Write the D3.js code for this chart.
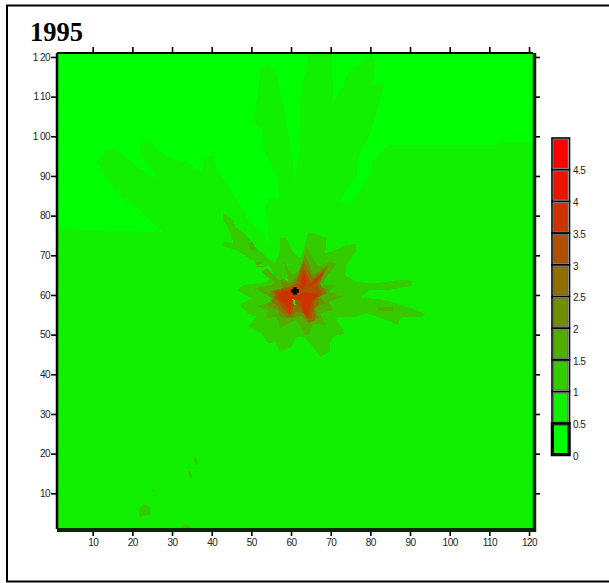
<!DOCTYPE html>
<html>
<head>
<meta charset="utf-8">
<script src="https://cdnjs.cloudflare.com/ajax/libs/d3/7.8.5/d3.min.js"></script>
<style>
  body { margin: 0; background: #fff; }
  svg { display: block; }
  .tick text { font-family: "Liberation Sans", Arial, sans-serif; font-size: 10px; fill: #222; letter-spacing: -0.5px; }
  .tick line { stroke: #000; stroke-width: 1.6px; }
</style>
</head>
<body>
<svg></svg>
<script>
const width = 609;
const height = 583;

const title = "1995";
const axisTicks = [10, 20, 30, 40, 50, 60, 70, 80, 90, 100, 110, 120];
const legendTicks = [0, 0.5, 1, 1.5, 2, 2.5, 3, 3.5, 4, 4.5];
const legendColors = ["#00ff00", "#10f000", "#33cc00", "#50ae00", "#708e00", "#8f6f00", "#ae5000", "#cc3300", "#eb1400", "#ff0000"];
const source = [61, 61];

// contour outlines, in grid units
const band05 = [[1,1],[1,77.1],[8.1,76.4],[26.2,75.9],[28,75.6],[25.5,77.6],[20.4,82.7],[18.1,83.9],[14.9,87.2],[11.1,93.3],[12.9,96.5],[15.4,97],[21.2,92.3],[26.2,89.5],[21.9,95.8],[21.9,98.6],[24.2,98.6],[28.7,94.8],[33.8,93.5],[37.6,91],[38.1,94.8],[40.6,95.3],[41.3,91.5],[43.4,89],[44.6,86.5],[48.1,81.4],[48.9,79.4],[53,75.6],[54.5,72.1],[54.2,76.4],[53.4,82.2],[54.7,84.7],[57,83.9],[56.5,90.2],[53,96.5],[52.7,101.6],[50.2,103.6],[51.7,110.9],[52.2,116.8],[54,118],[56,117.2],[57.2,111.7],[58.2,107.9],[60.5,93.3],[60.8,88.2],[61,89],[62.3,98.3],[62.3,109.2],[64,118.5],[64.3,121],[70.3,121],[70.6,108.4],[73.1,112.9],[74.9,117.2],[79.9,120],[81.2,118.7],[80.7,112.9],[83.7,113.4],[79.9,100.3],[76.9,94.5],[76.6,90.2],[73.6,85.9],[72.4,83.4],[75.4,83.4],[79.9,90.2],[80.4,93.5],[82.9,96.5],[85,97.8],[112,97.8],[112.7,98.6],[121,98.6],[121,1]];
const band1 = [[42.9,80.6],[45.5,78.9],[45.9,77.2],[48.4,75.5],[50.9,72.2],[54.3,69.2],[56,68],[57.2,71.3],[57.2,74.3],[58.9,74.3],[60.2,71.3],[62.3,69.2],[64.4,75.9],[66.9,75.1],[69,74.3],[68.6,70.5],[70.2,70.9],[74,72.6],[76.5,73],[76.5,71.3],[74,67.6],[73.6,65],[76.5,63.3],[80.7,62.9],[87.5,63.8],[90.4,63.6],[90.4,62.3],[84.9,61.3],[79.9,61.3],[77.4,59.4],[84.1,58.7],[89.2,57],[93.8,55.4],[93.3,54.5],[87.5,54.3],[87,52.4],[84.9,53.3],[79.1,55.4],[76.5,54.5],[71.1,54.5],[73.6,50.3],[70.7,49.5],[69.8,47.8],[69.8,45.7],[67.3,44.4],[65.2,47.4],[63,49.4],[61.4,49.5],[60.2,47],[57.2,45.7],[56,48.2],[54.3,47.8],[52.6,50.3],[49.2,52],[51.3,54.5],[49,55.4],[47.1,57.5],[50.1,59.1],[46.3,61.2],[48,62.5],[53.9,63.3],[55.5,65.4],[54.3,67.6],[52.6,66.7],[50.9,68.4],[48.8,69.6],[46.3,71.3],[42.1,72.6],[42.9,73.4],[45.5,73],[44.2,76.8],[42.9,78.9]];
const band15 = [[63.9,72.2],[65.6,69.2],[66.9,67.1],[69.4,68.4],[71.5,68],[69,64.6],[67.7,62.5],[71.1,62.5],[69.4,60.8],[73.2,59.6],[69.4,58.3],[70.7,56.2],[67.3,55.4],[68.6,52.4],[65.6,52.8],[64.4,49.9],[63.5,49.9],[61.4,53.7],[59.7,52.9],[57.2,51.6],[56.4,54.5],[53.4,54.1],[54.3,56.2],[51.3,57.1],[54.7,58.3],[56,60],[53,60.4],[50.9,61.7],[53.4,62.1],[56,62.9],[52.6,65.9],[53.9,66.7],[56.8,63.8],[59.3,64.2],[58.1,68.8],[59.3,66.3],[60.6,65],[62.3,66.7]];
const band2 = [[63.5,70.1],[64.8,67.1],[65.6,65],[68.1,66.7],[69.8,67.6],[67.7,64.2],[66.5,62.5],[69.4,61.3],[67.3,59.6],[68.6,57.9],[66,57],[66.9,54.1],[64.4,52.9],[62.3,54.9],[60.6,54.5],[58.9,54.1],[57.2,54.5],[56.8,56.2],[53.9,57.5],[56,58.7],[53.9,60],[56,61.3],[58,61.7],[57.2,63.8],[59.7,62.9],[61.4,64.6],[62.3,66.7]];
const band25 = [[54.8,61],[57.4,61.6],[60,62.4],[61.4,63.8],[63.2,68.6],[64.7,65.6],[65.4,64.2],[69,67],[67.2,62.7],[69,60.5],[66.8,59.4],[67,57.6],[65.9,56.5],[66,53.5],[64.6,53],[63,55.5],[61.2,55.8],[60,54],[58.5,54.8],[57.4,55.8],[56.5,57.4],[55,58.5],[56,60]];
const band3 = [[55.8,61],[60.2,62],[61.6,63.2],[63.1,67.3],[64.4,64.2],[65,63.4],[68.6,66.3],[66.6,62.6],[68,60.2],[66,59],[65.6,56.5],[65,53.8],[63.6,54.4],[62.5,57],[61,57.8],[60,54.8],[59,55.4],[57.8,56.8],[57,58.2],[56,59.5]];
const band35a = [[56.4,60.7],[60.2,61.3],[62,60],[63.5,60.8],[67.3,60],[65.4,58.7],[64.8,57],[64.4,54.5],[63.1,55.4],[62.3,58.7],[60.6,59.2],[59.7,55.4],[58.5,57.5],[57.2,58.7]];
const band35b = [[62.3,62.1],[63.1,66.3],[64,63.4],[63.1,61.3]];
const band35c = [[64.4,62.5],[68.1,65.5],[66,62.9],[64.8,62.1]];

// small islands and pockets
const islandA = [[49.2,73],[50.3,73.3],[51.1,71.5],[49.8,71.2]];
const islandB = [[50.9,68.4],[52.8,68.4],[52.7,67],[51.5,67]];
const islandC = [[82,57],[85.6,57],[85.6,56],[82,56]];
const pocketA = [[60.3,58.9],[60.8,58.9],[61.2,57.5],[60.7,57.5]];
const pocketB = [[58.5,64.4],[59.3,63.9],[59.1,63.5],[58.4,64]];
const pocketC = [[51.8,68],[52.8,67.6],[52.2,67.1]];
const patchA = [[21.5,5.8],[22.8,7.3],[24.4,6.6],[24.6,4.5],[22.8,4.3],[21.9,3.7]];
const patchB = [[31.8,1.2],[33.3,2.3],[35.2,1.2]];
const patchC = [[24.9,12.7],[24.9,11.3],[26.1,10.4],[25,10.4]];
const patchD = [[33.9,15.7],[34.7,15.5],[35.2,13.8],[34.4,14]];
const patchE = [[35.8,19.7],[36.4,18.4],[36.6,17.4],[36,16.9],[35.5,18.4]];

const bands = [
  [0.5, band05], [1, band1], [1.5, band15], [1.5, islandA], [1.5, islandB], [1.5, islandC],
  [1, patchA], [1, patchB], [1, patchC], [1, patchD], [1, patchE],
  [2, band2], [2.5, band25], [3, band3], [3.5, band35a], [3.5, band35b], [3.5, band35c],
  [0.5, pocketA], [0.5, pocketB], [0.5, pocketC]
];

const svg = d3.select("svg")
    .attr("width", width)
    .attr("height", height)
    .attr("viewBox", [0, 0, width, height]);

const x = d3.scaleLinear().domain([1, 121]).range([57, 533]);
const y = d3.scaleLinear().domain([1, 121]).range([529, 53]);
const color = d3.scaleThreshold().domain(legendTicks.slice(1)).range(legendColors);
const line = d3.line().x(d => x(d[0])).y(d => y(d[1])).curve(d3.curveLinearClosed);

// outer frame, no right side on it
svg.append("path")
    .attr("d", d3.line()([[width, 5.5], [7, 5.5], [7, 581.5], [width, 581.5]]))
    .attr("fill", "none")
    .attr("stroke", "#000")
    .attr("stroke-width", 2);

svg.append("text")
    .attr("x", 30)
    .attr("y", 41)
    .style("font-family", '"Liberation Serif", "Times New Roman", serif')
    .style("font-weight", "bold")
    .style("font-size", "26.5px")
    .text(title);

// map
svg.append("rect")
    .attr("x", x(1))
    .attr("y", y(121))
    .attr("width", x(121) - x(1))
    .attr("height", y(1) - y(121))
    .attr("fill", color(0));

svg.append("g")
    .selectAll("path")
    .data(bands)
    .join("path")
    .attr("d", d => line(d[1]))
    .attr("fill", d => color(d[0]))
    .attr("shape-rendering", "crispEdges");

svg.append("path")
    .attr("transform", `translate(${x(source[0])},${y(source[1])})`)
    .attr("d", d3.symbol(d3.symbolCross, 22)())
    .attr("fill", "#000")
    .attr("stroke", "#000")
    .attr("stroke-width", 1.2);

// frame of the map
svg.append("path")
    .attr("d", d3.line()([[x(1), y(121)], [x(121), y(121)]]))
    .attr("stroke", "#000")
    .attr("stroke-width", 2);
svg.append("path")
    .attr("d", d3.line()([[x(1), y(121)], [x(1), y(1)]]))
    .attr("stroke", "#000")
    .attr("stroke-width", 2.5);
svg.append("path")
    .attr("d", d3.line()([[x(121) + 1.5, y(121)], [x(121) + 1.5, y(1) + 3]]))
    .attr("stroke", "#082808")
    .attr("stroke-width", 3.5);
svg.append("path")
    .attr("d", d3.line()([[x(1), y(1) + 1], [x(121) + 3, y(1) + 1]]))
    .attr("stroke", "#082808")
    .attr("stroke-width", 4);

function spaced(g) {
  // the three digit labels have a gap after the 1 in the picture
  g.selectAll(".tick text").filter(d => d >= 100).each(function(d) {
    const t = d3.select(this).text("");
    t.append("tspan").text("1");
    t.append("tspan").attr("dx", 2).text(String(d).slice(1));
  });
}

svg.append("g")
    .attr("transform", `translate(${x(1) - 1},0)`)
    .call(d3.axisLeft(y).tickValues(axisTicks).tickSize(5).tickPadding(1).tickFormat(d3.format("d")))
    .call(g => g.select(".domain").remove())
    .call(spaced);

svg.append("g")
    .attr("transform", `translate(0,${y(1) + 3})`)
    .call(d3.axisBottom(x).tickValues(axisTicks).tickSize(4).tickPadding(3).tickFormat(d3.format("d")))
    .call(g => g.select(".domain").remove())
    .attr("text-anchor", "middle");

svg.append("g")
    .attr("transform", `translate(0,${y(121) - 1})`)
    .call(d3.axisTop(x).tickValues(axisTicks).tickSize(5).tickFormat(""))
    .call(g => g.select(".domain").remove());

svg.append("g")
    .attr("transform", `translate(${x(121) + 3},0)`)
    .call(d3.axisRight(y).tickValues(axisTicks).tickSize(4).tickFormat(""))
    .call(g => g.select(".domain").remove());

// legend
const legendY = d3.scaleLinear().domain([0, 5]).range([455, 138]);

svg.append("g")
    .selectAll("rect")
    .data(legendTicks)
    .join("rect")
    .attr("x", 552)
    .attr("y", d => legendY(d + 0.5))
    .attr("width", 17.5)
    .attr("height", d => legendY(d) - legendY(d + 0.5))
    .attr("fill", "none")
    .attr("stroke", "#000")
    .attr("stroke-width", d => d === 0 ? 2.5 : 1.6);

svg.append("g")
    .selectAll("rect")
    .data(legendTicks)
    .join("rect")
    .attr("x", 553.5)
    .attr("y", d => legendY(d + 0.5) + 1.5)
    .attr("width", 14.5)
    .attr("height", d => legendY(d) - legendY(d + 0.5) - 3)
    .attr("fill", d => color(d))
    .attr("stroke", d => d === 0 ? "#000" : "#666")
    .attr("stroke-width", 1);

svg.append("g")
    .attr("transform", "translate(570,1)")
    .call(d3.axisRight(legendY).tickValues(legendTicks).tickSize(0).tickPadding(3).tickFormat(d3.format("")))
    .call(g => g.select(".domain").remove());
</script>
</body>
</html>
